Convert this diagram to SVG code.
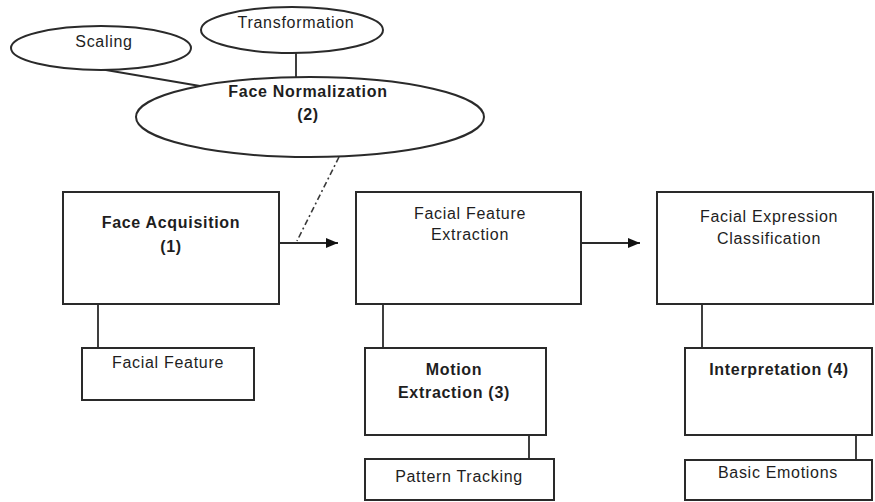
<svg xmlns="http://www.w3.org/2000/svg" width="875" height="502" viewBox="0 0 875 502">
<defs>
<style>
.shape{fill:#fff;stroke:#2a2a2a;stroke-width:2}
.line{fill:none;stroke:#2a2a2a;stroke-width:1.8}
.dash{fill:none;stroke:#3a3a3a;stroke-width:1.6;stroke-dasharray:6 3 2 3}
text{font-family:"Liberation Sans",Arial,sans-serif;font-size:16px;fill:#1e1e1e;text-anchor:middle;letter-spacing:0.7px}
.b{font-weight:bold}
</style>
<marker id="arr" markerWidth="12" markerHeight="10" refX="12" refY="5" orient="auto" markerUnits="userSpaceOnUse">
<path d="M0,0 L12,5 L0,10 Z" fill="#111"/>
</marker>
</defs>
<rect width="875" height="502" fill="#fff"/>
<g id="connectors">
<line class="line" x1="100" y1="69" x2="200" y2="86"/>
<line class="line" x1="296" y1="53" x2="296" y2="78"/>
<line class="dash" x1="339" y1="157" x2="297" y2="241"/>
<line class="line" x1="279" y1="243" x2="338" y2="243" marker-end="url(#arr)"/>
<line class="line" x1="581" y1="243" x2="640" y2="243" marker-end="url(#arr)"/>
<line class="line" x1="98" y1="304" x2="98" y2="348"/>
<line class="line" x1="383" y1="304" x2="383" y2="348"/>
<line class="line" x1="702" y1="304" x2="702" y2="348"/>
<line class="line" x1="529" y1="435" x2="529" y2="459"/>
<line class="line" x1="856" y1="435" x2="856" y2="460"/>
</g>
<g id="scaling">
<ellipse class="shape" cx="101" cy="48" rx="90" ry="22"/>
<text x="104" y="47">Scaling</text>
</g>
<g id="transformation">
<ellipse class="shape" cx="292" cy="30" rx="91" ry="23"/>
<text x="296" y="28">Transformation</text>
</g>
<g id="face-normalization">
<ellipse class="shape" cx="310" cy="117" rx="174" ry="40"/>
<text class="b" x="308" y="97">Face Normalization</text>
<text class="b" x="308" y="120">(2)</text>
</g>
<g id="face-acquisition">
<rect class="shape" x="63" y="192" width="216" height="112"/>
<text class="b" x="171" y="228">Face Acquisition</text>
<text class="b" x="171" y="252">(1)</text>
</g>
<g id="facial-feature">
<rect class="shape" x="82" y="348" width="172" height="52"/>
<text x="168" y="368">Facial Feature</text>
</g>
<g id="facial-feature-extraction">
<rect class="shape" x="356" y="192" width="225" height="112"/>
<text x="470" y="219">Facial Feature</text>
<text x="470" y="240">Extraction</text>
</g>
<g id="motion-extraction">
<rect class="shape" x="365" y="348" width="181" height="87"/>
<text class="b" x="454" y="375">Motion</text>
<text class="b" x="454" y="398">Extraction (3)</text>
</g>
<g id="pattern-tracking">
<rect class="shape" x="365" y="459" width="189" height="41"/>
<text x="459" y="482">Pattern Tracking</text>
</g>
<g id="facial-expression-classification">
<rect class="shape" x="657" y="192" width="216" height="112"/>
<text x="769" y="222">Facial Expression</text>
<text x="769" y="244">Classification</text>
</g>
<g id="interpretation">
<rect class="shape" x="685" y="348" width="187" height="87"/>
<text class="b" x="779" y="375">Interpretation (4)</text>
</g>
<g id="basic-emotions">
<rect class="shape" x="685" y="460" width="187" height="40"/>
<text x="778" y="478">Basic Emotions</text>
</g>
</svg>
